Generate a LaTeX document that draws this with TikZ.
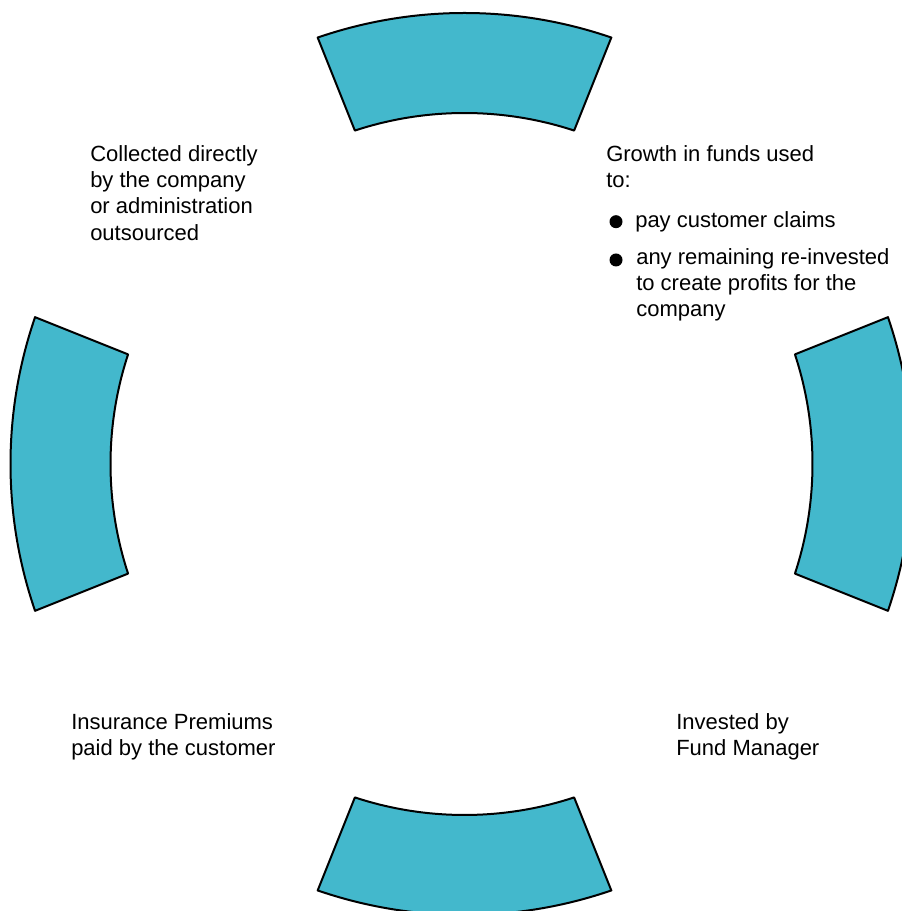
\documentclass[tikz,border=0pt]{standalone}
\usepackage{fontspec}
\setmainfont{Liberation Sans}
\definecolor{ringteal}{RGB}{67,184,204}
\tikzset{
  segment/.style={draw=black, line width=1.5pt, fill=ringteal, line join=round},
  note/.style={inner sep=0pt, align=left, anchor=north west, font=\fontsize{16.5}{19.6}\selectfont},
  bulletdot/.style={circle, fill=black, inner sep=0pt, minimum size=9.75pt}
}
\begin{document}
\begin{tikzpicture}[x=0.75pt,y=0.75pt]
  \useasboundingbox (0,0) rectangle (901,911);
  \coordinate (Ov) at (464.5,447); % centre for top and bottom segments
  \coordinate (Oh) at (461.5,447); % centre for left and right segments
  \draw[segment,shift={(Ov)}] (71:451) arc[start angle=71, end angle=109, radius=451] -- (108.2:351) arc[start angle=108.2, end angle=71.8, radius=351] -- cycle; % top segment
  \draw[segment,shift={(Oh)}] (-19:451) arc[start angle=-19, end angle=19, radius=451] -- (18.2:351) arc[start angle=18.2, end angle=-18.2, radius=351] -- cycle; % right segment
  \draw[segment,shift={(Ov)}] (251:451) arc[start angle=251, end angle=289, radius=451] -- (288.2:351) arc[start angle=288.2, end angle=251.8, radius=351] -- cycle; % bottom segment
  \draw[segment,shift={(Oh)}] (161:451) arc[start angle=161, end angle=199, radius=451] -- (198.2:351) arc[start angle=198.2, end angle=161.8, radius=351] -- cycle; % left segment
  \node[note] (collect) at (90,765.5) {Collected directly\\by the company\\or administration\\outsourced};
  \node[note] (growth) at (606,765.5) {Growth in funds used\\to:};
  \node[bulletdot] (dot1) at (616,689.3) {};
  \node[note] (claims) at (635,700) {pay customer claims};
  \node[bulletdot] (dot2) at (616,651) {};
  \node[note] (reinvest) at (636,663) {any remaining re-invested\\to create profits for the\\company};
  \node[note] (premiums) at (71,197.5) {Insurance Premiums\\paid by the customer};
  \node[note] (invested) at (676,197.5) {Invested by\\Fund Manager};
\end{tikzpicture}
\end{document}
